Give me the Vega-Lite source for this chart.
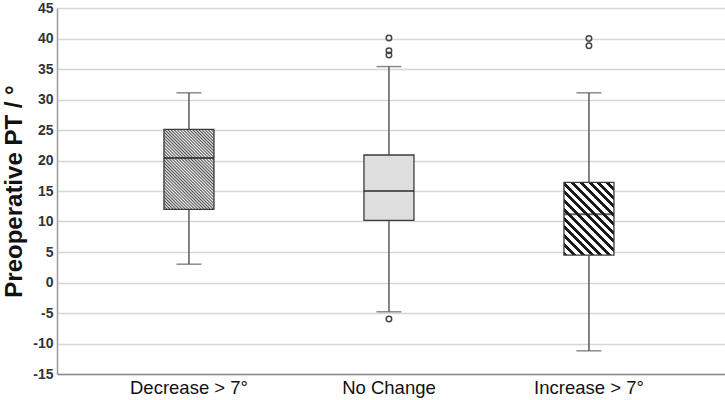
{
  "$schema": "https://vega.github.io/schema/vega-lite/v6.json",
  "width": 668,
  "height": 366,
  "autosize": {"type": "none"},
  "padding": {"left": 57, "top": 8, "right": 0, "bottom": 26},
  "background": "white",
  "datasets": {
    "boxes": [
      {"group": "Decrease > 7°", "lower": 3.0, "q1": 12.0, "median": 20.4, "q3": 25.1, "upper": 31.1},
      {"group": "No Change", "lower": -4.8, "q1": 10.2, "median": 15.0, "q3": 20.9, "upper": 35.4},
      {"group": "Increase > 7°", "lower": -11.2, "q1": 4.5, "median": 11.2, "q3": 16.4, "upper": 31.1}
    ],
    "outliers": [
      {"group": "No Change", "value": 40.1},
      {"group": "No Change", "value": 38.0},
      {"group": "No Change", "value": 37.3},
      {"group": "No Change", "value": -6.0},
      {"group": "Increase > 7°", "value": 40.0},
      {"group": "Increase > 7°", "value": 38.8}
    ]
  },
  "data": {"name": "boxes"},
  "encoding": {
    "x": {
      "field": "group",
      "type": "nominal",
      "sort": ["Decrease > 7°", "No Change", "Increase > 7°"],
      "scale": {"paddingInner": 0, "paddingOuter": 0.17, "align": 0.47},
      "axis": {
        "title": null,
        "labelAngle": 0,
        "labelFont": "Liberation Sans",
        "labelFontSize": 18.5,
        "labelColor": "#111111",
        "labelPadding": 4,
        "ticks": false,
        "grid": false,
        "domain": true,
        "domainColor": "#8c8c8c",
        "domainWidth": 1.5
      }
    }
  },
  "layer": [
    {
      "mark": {"type": "rule", "color": "#5a5a5a", "strokeWidth": 1.5},
      "encoding": {
        "y": {
          "field": "lower",
          "type": "quantitative",
          "scale": {"domain": [-15, 45], "nice": false, "zero": false},
          "axis": {
            "values": [-15, -10, -5, 0, 5, 10, 15, 20, 25, 30, 35, 40, 45],
            "tickCount": 13,
            "labelOverlap": false,
            "labelExpr": "replace(datum.label, '\u2212', '-')",
            "title": "Preoperative PT / °",
            "titleFont": "Liberation Sans",
            "titleFontSize": 24,
            "titleFontWeight": "bold",
            "titleColor": "#111111",
            "titlePadding": 6,
            "labelFont": "Liberation Sans",
            "labelFontSize": 14,
            "labelFontWeight": "bold",
            "labelColor": "#333333",
            "labelPadding": 4,
            "ticks": false,
            "grid": true,
            "gridColor": "#d6d6d6",
            "gridWidth": 1.5,
            "domain": true,
            "domainColor": "#9a9a9a",
            "domainWidth": 1.5
          }
        },
        "y2": {"field": "upper"}
      }
    },
    {
      "mark": {"type": "tick", "color": "#5a5a5a", "size": 25, "thickness": 1.5},
      "encoding": {"y": {"field": "upper", "type": "quantitative"}}
    },
    {
      "mark": {"type": "tick", "color": "#5a5a5a", "size": 25, "thickness": 1.5},
      "encoding": {"y": {"field": "lower", "type": "quantitative"}}
    },
    {
      "transform": [{"filter": "datum.group === 'Decrease > 7°'"}],
      "mark": {
        "type": "bar",
        "size": 50,
        "stroke": "#3c3c3c",
        "strokeWidth": 1.3,
        "fill": {
          "gradient": "linear",
          "x1": 0, "y1": 1, "x2": 0.7303, "y2": -0.1685,
          "stops": [
            {"offset": 0, "color": "#4a4a4a"}, {"offset": 0.0119, "color": "#ffffff"},
            {"offset": 0.0238, "color": "#4a4a4a"}, {"offset": 0.0357, "color": "#ffffff"},
            {"offset": 0.0476, "color": "#4a4a4a"}, {"offset": 0.0595, "color": "#ffffff"},
            {"offset": 0.0714, "color": "#4a4a4a"}, {"offset": 0.0833, "color": "#ffffff"},
            {"offset": 0.0952, "color": "#4a4a4a"}, {"offset": 0.1071, "color": "#ffffff"},
            {"offset": 0.1190, "color": "#4a4a4a"}, {"offset": 0.1310, "color": "#ffffff"},
            {"offset": 0.1429, "color": "#4a4a4a"}, {"offset": 0.1548, "color": "#ffffff"},
            {"offset": 0.1667, "color": "#4a4a4a"}, {"offset": 0.1786, "color": "#ffffff"},
            {"offset": 0.1905, "color": "#4a4a4a"}, {"offset": 0.2024, "color": "#ffffff"},
            {"offset": 0.2143, "color": "#4a4a4a"}, {"offset": 0.2262, "color": "#ffffff"},
            {"offset": 0.2381, "color": "#4a4a4a"}, {"offset": 0.2500, "color": "#ffffff"},
            {"offset": 0.2619, "color": "#4a4a4a"}, {"offset": 0.2738, "color": "#ffffff"},
            {"offset": 0.2857, "color": "#4a4a4a"}, {"offset": 0.2976, "color": "#ffffff"},
            {"offset": 0.3095, "color": "#4a4a4a"}, {"offset": 0.3214, "color": "#ffffff"},
            {"offset": 0.3333, "color": "#4a4a4a"}, {"offset": 0.3452, "color": "#ffffff"},
            {"offset": 0.3571, "color": "#4a4a4a"}, {"offset": 0.3690, "color": "#ffffff"},
            {"offset": 0.3810, "color": "#4a4a4a"}, {"offset": 0.3929, "color": "#ffffff"},
            {"offset": 0.4048, "color": "#4a4a4a"}, {"offset": 0.4167, "color": "#ffffff"},
            {"offset": 0.4286, "color": "#4a4a4a"}, {"offset": 0.4405, "color": "#ffffff"},
            {"offset": 0.4524, "color": "#4a4a4a"}, {"offset": 0.4643, "color": "#ffffff"},
            {"offset": 0.4762, "color": "#4a4a4a"}, {"offset": 0.4881, "color": "#ffffff"},
            {"offset": 0.5000, "color": "#4a4a4a"}, {"offset": 0.5119, "color": "#ffffff"},
            {"offset": 0.5238, "color": "#4a4a4a"}, {"offset": 0.5357, "color": "#ffffff"},
            {"offset": 0.5476, "color": "#4a4a4a"}, {"offset": 0.5595, "color": "#ffffff"},
            {"offset": 0.5714, "color": "#4a4a4a"}, {"offset": 0.5833, "color": "#ffffff"},
            {"offset": 0.5952, "color": "#4a4a4a"}, {"offset": 0.6071, "color": "#ffffff"},
            {"offset": 0.6190, "color": "#4a4a4a"}, {"offset": 0.6310, "color": "#ffffff"},
            {"offset": 0.6429, "color": "#4a4a4a"}, {"offset": 0.6548, "color": "#ffffff"},
            {"offset": 0.6667, "color": "#4a4a4a"}, {"offset": 0.6786, "color": "#ffffff"},
            {"offset": 0.6905, "color": "#4a4a4a"}, {"offset": 0.7024, "color": "#ffffff"},
            {"offset": 0.7143, "color": "#4a4a4a"}, {"offset": 0.7262, "color": "#ffffff"},
            {"offset": 0.7381, "color": "#4a4a4a"}, {"offset": 0.7500, "color": "#ffffff"},
            {"offset": 0.7619, "color": "#4a4a4a"}, {"offset": 0.7738, "color": "#ffffff"},
            {"offset": 0.7857, "color": "#4a4a4a"}, {"offset": 0.7976, "color": "#ffffff"},
            {"offset": 0.8095, "color": "#4a4a4a"}, {"offset": 0.8214, "color": "#ffffff"},
            {"offset": 0.8333, "color": "#4a4a4a"}, {"offset": 0.8452, "color": "#ffffff"},
            {"offset": 0.8571, "color": "#4a4a4a"}, {"offset": 0.8690, "color": "#ffffff"},
            {"offset": 0.8810, "color": "#4a4a4a"}, {"offset": 0.8929, "color": "#ffffff"},
            {"offset": 0.9048, "color": "#4a4a4a"}, {"offset": 0.9167, "color": "#ffffff"},
            {"offset": 0.9286, "color": "#4a4a4a"}, {"offset": 0.9405, "color": "#ffffff"},
            {"offset": 0.9524, "color": "#4a4a4a"}, {"offset": 0.9643, "color": "#ffffff"},
            {"offset": 0.9762, "color": "#4a4a4a"}, {"offset": 0.9881, "color": "#ffffff"},
            {"offset": 1, "color": "#4a4a4a"}
          ]
        }
      },
      "encoding": {
        "y": {"field": "q1", "type": "quantitative"},
        "y2": {"field": "q3"}
      }
    },
    {
      "transform": [{"filter": "datum.group === 'No Change'"}],
      "mark": {"type": "bar", "size": 50, "stroke": "#3c3c3c", "strokeWidth": 1.3, "fill": "#dedede"},
      "encoding": {
        "y": {"field": "q1", "type": "quantitative"},
        "y2": {"field": "q3"}
      }
    },
    {
      "transform": [{"filter": "datum.group === 'Increase > 7°'"}],
      "mark": {
        "type": "bar",
        "size": 50,
        "stroke": "#3c3c3c",
        "strokeWidth": 1.3,
        "fill": {
          "gradient": "linear",
          "x1": 0, "y1": 1, "x2": 0.7888, "y2": -0.1454,
          "stops": [
            {"offset": 0, "color": "#1a1a1a"}, {"offset": 0.0321, "color": "#1a1a1a"}, {"offset": 0.0321, "color": "#ffffff"}, {"offset": 0.0714, "color": "#ffffff"},
            {"offset": 0.0714, "color": "#1a1a1a"}, {"offset": 0.1036, "color": "#1a1a1a"}, {"offset": 0.1036, "color": "#ffffff"}, {"offset": 0.1429, "color": "#ffffff"},
            {"offset": 0.1429, "color": "#1a1a1a"}, {"offset": 0.1750, "color": "#1a1a1a"}, {"offset": 0.1750, "color": "#ffffff"}, {"offset": 0.2143, "color": "#ffffff"},
            {"offset": 0.2143, "color": "#1a1a1a"}, {"offset": 0.2464, "color": "#1a1a1a"}, {"offset": 0.2464, "color": "#ffffff"}, {"offset": 0.2857, "color": "#ffffff"},
            {"offset": 0.2857, "color": "#1a1a1a"}, {"offset": 0.3179, "color": "#1a1a1a"}, {"offset": 0.3179, "color": "#ffffff"}, {"offset": 0.3571, "color": "#ffffff"},
            {"offset": 0.3571, "color": "#1a1a1a"}, {"offset": 0.3893, "color": "#1a1a1a"}, {"offset": 0.3893, "color": "#ffffff"}, {"offset": 0.4286, "color": "#ffffff"},
            {"offset": 0.4286, "color": "#1a1a1a"}, {"offset": 0.4607, "color": "#1a1a1a"}, {"offset": 0.4607, "color": "#ffffff"}, {"offset": 0.5000, "color": "#ffffff"},
            {"offset": 0.5000, "color": "#1a1a1a"}, {"offset": 0.5321, "color": "#1a1a1a"}, {"offset": 0.5321, "color": "#ffffff"}, {"offset": 0.5714, "color": "#ffffff"},
            {"offset": 0.5714, "color": "#1a1a1a"}, {"offset": 0.6036, "color": "#1a1a1a"}, {"offset": 0.6036, "color": "#ffffff"}, {"offset": 0.6429, "color": "#ffffff"},
            {"offset": 0.6429, "color": "#1a1a1a"}, {"offset": 0.6750, "color": "#1a1a1a"}, {"offset": 0.6750, "color": "#ffffff"}, {"offset": 0.7143, "color": "#ffffff"},
            {"offset": 0.7143, "color": "#1a1a1a"}, {"offset": 0.7464, "color": "#1a1a1a"}, {"offset": 0.7464, "color": "#ffffff"}, {"offset": 0.7857, "color": "#ffffff"},
            {"offset": 0.7857, "color": "#1a1a1a"}, {"offset": 0.8179, "color": "#1a1a1a"}, {"offset": 0.8179, "color": "#ffffff"}, {"offset": 0.8571, "color": "#ffffff"},
            {"offset": 0.8571, "color": "#1a1a1a"}, {"offset": 0.8893, "color": "#1a1a1a"}, {"offset": 0.8893, "color": "#ffffff"}, {"offset": 0.9286, "color": "#ffffff"},
            {"offset": 0.9286, "color": "#1a1a1a"}, {"offset": 0.9607, "color": "#1a1a1a"}, {"offset": 0.9607, "color": "#ffffff"}, {"offset": 1, "color": "#ffffff"}
          ]
        }
      },
      "encoding": {
        "y": {"field": "q1", "type": "quantitative"},
        "y2": {"field": "q3"}
      }
    },
    {
      "mark": {"type": "tick", "color": "#1e1e1e", "size": 50, "thickness": 2},
      "encoding": {"y": {"field": "median", "type": "quantitative"}}
    },
    {
      "data": {"name": "outliers"},
      "mark": {"type": "point", "shape": "circle", "filled": false, "size": 30, "stroke": "#444444", "strokeWidth": 1.5, "opacity": 1},
      "encoding": {"y": {"field": "value", "type": "quantitative"}}
    }
  ],
  "config": {
    "view": {"stroke": null}
  }
}
